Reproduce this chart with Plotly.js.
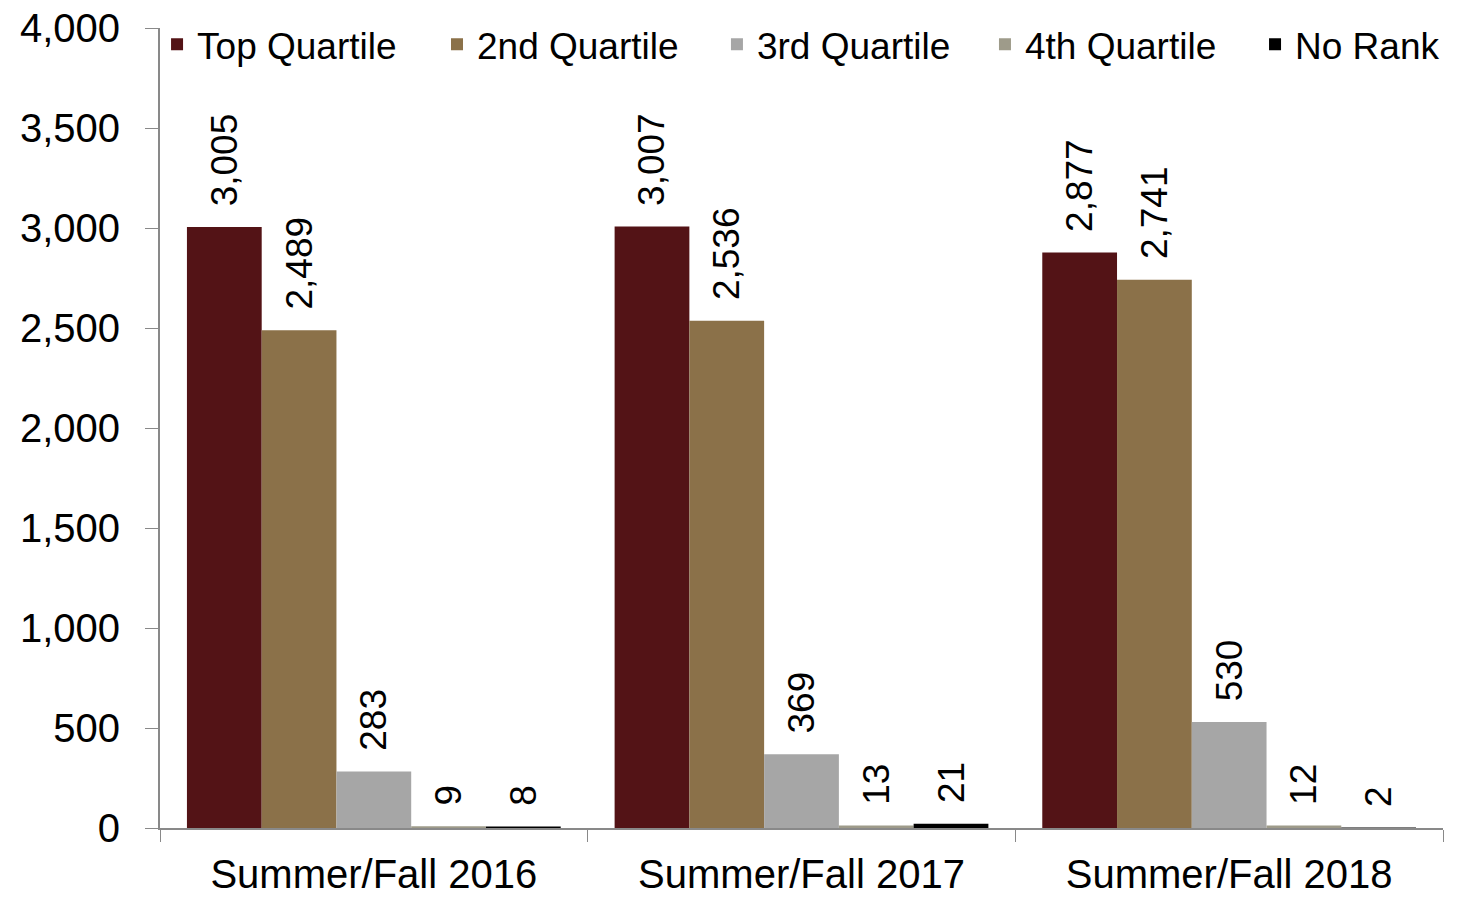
<!DOCTYPE html>
<html>
<head>
<meta charset="utf-8">
<script src="https://cdn.plot.ly/plotly-3.0.1.min.js"></script>
<style>html,body{margin:0;padding:0;background:#fff;}#chart{width:1463px;height:898px;}</style>
</head>
<body>
<div id="chart"></div>
<script>
const categories = ["Summer/Fall 2016", "Summer/Fall 2017", "Summer/Fall 2018"];
const seriesNames = ["Top Quartile", "2nd Quartile", "3rd Quartile", "4th Quartile", "No Rank"];
const topQuartile = [3005, 3007, 2877];
const secondQuartile = [2489, 2536, 2741];
const thirdQuartile = [283, 369, 530];
const fourthQuartile = [9, 13, 12];
const noRank = [8, 21, 2];
const colors = ["#531316", "#8B7149", "#A6A6A6", "#9E9B8A", "#000000"];

const allSeries = [topQuartile, secondQuartile, thirdQuartile, fourthQuartile, noRank];
const FONT = "Liberation Sans, Arial, sans-serif";
const legendIds = ["legend", "legend2", "legend3", "legend4", "legend5"];
const legendX = [-0.0023, 0.2159, 0.4341, 0.6430, 0.8535];

const traces = allSeries.map((vals, i) => ({
  type: "bar",
  name: seriesNames[i],
  legend: legendIds[i],
  x: categories,
  y: vals,
  marker: {color: colors[i], line: {width: 0}},
  texttemplate: "\u00a0\u2009%{y:,}",
  textposition: "outside",
  textangle: -90,
  constraintext: "none",
  cliponaxis: false,
  textfont: {family: FONT, size: 37, color: "#000"},
  hoverinfo: "skip"
}));

const layout = {
  width: 1463,
  height: 898,
  margin: {l: 160, r: 20, t: 28, b: 70, autoexpand: false},
  paper_bgcolor: "#fff",
  plot_bgcolor: "#fff",
  barmode: "group",
  bargap: 0.126,
  bargroupgap: 0,
  font: {family: FONT, color: "#000"},
  showlegend: true,
  xaxis: {
    type: "category",
    showline: true,
    linecolor: "#898989",
    linewidth: 2,
    ticks: "outside",
    tickson: "boundaries",
    ticklen: 12,
    tickcolor: "#898989",
    tickwidth: 1,
    showgrid: false,
    automargin: false,
    ticklabelstandoff: 10,
    tickfont: {family: FONT, size: 40, color: "#000"},
    zeroline: false
  },
  yaxis: {
    range: [0, 4000],
    dtick: 500,
    tickformat: ",",
    showline: true,
    linecolor: "#898989",
    linewidth: 2,
    ticks: "outside",
    ticklen: 13,
    tickcolor: "#898989",
    tickwidth: 1,
    showgrid: false,
    zeroline: false,
    automargin: false,
    ticklabelstandoff: 17,
    tickfont: {family: FONT, size: 40, color: "#000"}
  }
};

legendIds.forEach((id, i) => {
  layout[id] = {
    orientation: "h",
    x: legendX[i], xanchor: "left",
    y: 1.018, yanchor: "top",
    font: {family: FONT, size: 37, color: "#000"},
    bgcolor: "rgba(0,0,0,0)"
  };
});

Plotly.newPlot("chart", traces, layout, {displayModeBar: false, staticPlot: true});
</script>
</body>
</html>
